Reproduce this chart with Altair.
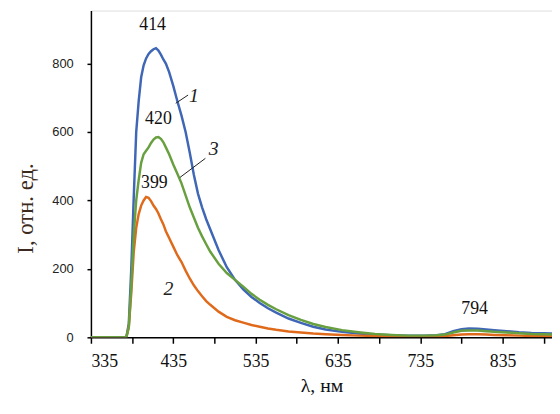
import altair as alt
import pandas as pd

wavelength = [335, 370, 378, 381, 384, 387, 390, 393, 396, 399, 402, 405, 408, 411, 414, 417, 420,
              423, 426, 430, 435, 440, 445, 450, 455, 460, 465, 470, 475, 480, 490, 500, 510, 520,
              530, 540, 550, 560, 575, 590, 605, 620, 640, 660, 680, 700, 720, 740, 755, 765, 775,
              785, 794, 805, 815, 825, 840, 855, 870, 885, 895]

curve1 = [0, 0, 0, 40, 200, 410, 600, 690, 760, 795, 815, 828, 836, 842, 845, 838, 826,
          812, 800, 775, 735, 690, 648, 600, 540, 475, 420, 380, 345, 315, 255, 205, 168, 140,
          118, 100, 85, 72, 55, 42, 31, 23, 16, 11, 8, 6, 5, 5, 6, 9, 18,
          24, 26, 25, 23, 21, 18, 15, 13, 12, 11]

curve3 = [0, 0, 0, 30, 150, 300, 400, 460, 510, 535, 545, 555, 568, 578, 584, 585, 580,
          570, 555, 535, 505, 478, 450, 415, 380, 350, 320, 295, 272, 250, 215, 188, 168, 148,
          127, 110, 95, 82, 65, 51, 39, 30, 21, 15, 10, 7, 5, 5, 6, 8, 14,
          19, 20, 20, 18, 16, 14, 12, 10, 9, 8]

curve2 = [0, 0, 0, 30, 130, 250, 320, 360, 385, 400, 410, 408, 398, 385, 375, 362, 345,
          330, 310, 290, 265, 240, 220, 195, 172, 152, 135, 120, 106, 95, 75, 60, 50, 43,
          36, 31, 26, 22, 17, 14, 11, 9, 7, 5, 4, 3, 3, 3, 3, 4, 6,
          8, 9, 9, 8, 7, 6, 5, 4, 4, 3]

series_names = ["1", "2", "3"]
series_colors = ["#3F67B6", "#E06A1B", "#68A040"]

peak_labels = ["414", "420", "399", "794"]
peak_x = [410, 417, 412, 801]
peak_y = [912, 637, 450, 84]

curve_labels = ["1", "3", "2"]
curve_label_x = [460, 484, 429]
curve_label_y = [704, 551, 141]

leader_x1 = [438, 443]
leader_x2 = [453, 474]
leader_y1 = [684, 467]
leader_y2 = [708, 523]

x_ticks = list(range(335, 886, 50))
y_ticks = [0, 200, 400, 600, 800]

SERIF = "Liberation Serif, Times New Roman, serif"

rows = []
for name, vals in zip(series_names, [curve1, curve2, curve3]):
    for w, v in zip(wavelength, vals):
        rows.append({"wl": w, "I": v, "s": name})
df = pd.DataFrame(rows)

xscale = alt.Scale(domain=[335, 895], nice=False, zero=False)
yscale = alt.Scale(domain=[0, 955], nice=False)

lines = alt.Chart(df).mark_line(strokeWidth=2.5, clip=True).encode(
    x=alt.X("wl:Q", scale=xscale,
            axis=alt.Axis(values=x_ticks, format="d", title="λ, нм",
                          labelExpr="(datum.value - 335) % 100 == 0 ? datum.label : ''",
                          labelFont=SERIF, labelFontSize=18, labelColor="#111",
                          labelPadding=10, tickSize=6, tickColor="#000", tickWidth=1.5,
                          domainColor="#000", domainWidth=1.5, grid=False,
                          titleFont=SERIF, titleFontSize=20,
                          titleFontWeight="normal", titleColor="#111", titlePadding=5)),
    y=alt.Y("I:Q", scale=yscale,
            axis=alt.Axis(values=y_ticks, title="I, отн. ед.",
                          labelFont="Liberation Sans Narrow, Liberation Sans, sans-serif",
                          labelFontSize=13, labelColor="#222",
                          labelPadding=14, tickSize=4, tickColor="#000", tickWidth=1.5,
                          domainColor="#000", domainWidth=1.5, grid=False,
                          titleFont=SERIF, titleFontSize=23,
                          titleFontWeight="normal", titleColor="#3b2a20",
                          titlePadding=14, titleY=200)),
    color=alt.Color("s:N", scale=alt.Scale(domain=series_names, range=series_colors), legend=None),
    order=alt.Order("s:N"),
    detail="s:N",
)

peaks_df = pd.DataFrame({"t": peak_labels, "x": peak_x, "y": peak_y})
peaks = alt.Chart(peaks_df).mark_text(font=SERIF, fontSize=18, color="#111").encode(
    x=alt.X("x:Q", scale=xscale), y=alt.Y("y:Q", scale=yscale), text="t:N")

cl_df = pd.DataFrame({"t": curve_labels, "x": curve_label_x, "y": curve_label_y})
clabels = alt.Chart(cl_df).mark_text(font=SERIF, fontSize=20, fontStyle="italic",
                                     color="#222").encode(
    x=alt.X("x:Q", scale=xscale), y=alt.Y("y:Q", scale=yscale), text="t:N")

ld_df = pd.DataFrame({"x1": leader_x1, "x2": leader_x2, "y1": leader_y1, "y2": leader_y2})
leaders = alt.Chart(ld_df).mark_rule(color="#222", strokeWidth=1).encode(
    x=alt.X("x1:Q", scale=xscale), x2="x2:Q",
    y=alt.Y("y1:Q", scale=yscale), y2="y2:Q")

chart = alt.layer(lines, leaders, peaks, clabels).properties(
    width=467, height=331,
    autosize=alt.AutoSizeParams(type="none"),
    padding={"left": 84, "top": 0, "right": 0, "bottom": 67},
).configure_view(stroke=None).configure(background="white")

chart.save("out.html", embed_options={"renderer": "svg", "actions": False})
